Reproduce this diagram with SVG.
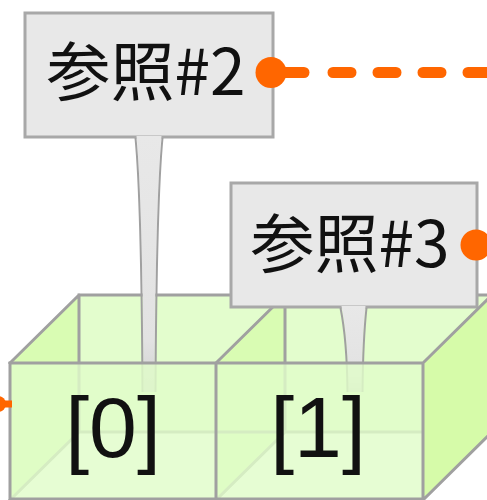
<svg xmlns="http://www.w3.org/2000/svg" width="487" height="500" viewBox="0 0 487 500">
<defs>
<style>
.edge{stroke:#a0a0a0;stroke-width:3;fill:none;stroke-linecap:square}
.box{fill:#e8e8e8;stroke:#a8a8a8;stroke-width:3}
.lbl{font-family:"Noto Sans CJK JP","Noto Sans",sans-serif;font-size:64px;fill:#111;text-anchor:middle}
.idx{font-family:"Liberation Sans",Arial,sans-serif;font-size:86px;fill:#111;text-anchor:middle}
.back{fill:#e3fdcd}
.side{fill:#d9fcb3}
.front{fill:#e1fcc9;fill-opacity:0.82}
.right{fill:#d6fba9}
.stemside{stroke:#a0a0a0;stroke-width:2;fill:none}
.conn{stroke:#ff6600;stroke-width:11;fill:none;stroke-linecap:round}
.dot{fill:#ff6600}
</style>
<linearGradient id="stemg" x1="0" y1="0" x2="0" y2="1">
<stop offset="0" stop-color="#e8e8e8"/>
<stop offset="0.8" stop-color="#e2e2e2"/>
<stop offset="1" stop-color="#d0d0d0"/>
</linearGradient>
</defs>

<g id="array-back">
<g id="cell0-back">
<rect class="back" x="79" y="295" width="206" height="137"/>
<polygon class="side" points="10,363 79,295 79,432 10,500"/>
</g>
<g id="cell1-back">
<rect class="back" x="285" y="295" width="207" height="137"/>
<polygon class="side" points="216,363 285,295 285,432 216,500"/>
</g>
<path class="edge" d="M79,295 H492 M79,432 H492 M79,295 V432 M285,295 V432 M10,363 L79,295 M216,363 L285,295 M10,500 L79,432 M216,500 L285,432"/>
</g>

<g id="callout-ref2">
<rect class="box" x="25" y="13" width="248" height="124"/>
<path d="M136.5,136 L161.5,136 Q155.5,200 154.5,392 L143.5,392 Q142.5,200 136.5,136 Z" fill="url(#stemg)"/>
<path class="stemside" d="M135.5,138 Q141.5,200 142.5,392 M155.5,392 Q156.5,200 162.5,138"/>
<text class="lbl" x="146" y="95">参照#2</text>
</g>

<g id="callout-ref3">
<rect class="box" x="231" y="183" width="246" height="124"/>
<path d="M341.5,306 L365.5,306 Q362,340 361.5,392 L348.5,392 Q348,340 341.5,306 Z" fill="url(#stemg)"/>
<path class="stemside" d="M340.5,308 Q347,340 347.5,392 M362.5,392 Q363,340 366.5,308"/>
<text class="lbl" x="350" y="267">参照#3</text>
</g>

<g id="cell0">
<rect class="front" x="10" y="363" width="206" height="137"/>
<text class="idx" x="113" y="457">[0]</text>
</g>
<g id="cell1">
<rect class="front" x="216" y="363" width="207" height="137"/>
<polygon class="right" points="423,363 492,295 492,432 423,500"/>
<text class="idx" x="318" y="457">[1]</text>
</g>
<path class="edge" d="M10,363 H423 M10,499 H423 M10,363 V500 M216,363 V500 M423,363 V500 M423,363 L492,295 M423,500 L492,432"/>

<g id="connectors">
<line class="conn" x1="271" y1="72.5" x2="304" y2="72.5"/>
<line class="conn" x1="333" y1="72.5" x2="500" y2="72.5" stroke-dasharray="18 27"/>
<circle class="dot" cx="271" cy="72.5" r="15.5"/>
<circle class="dot" cx="476" cy="245" r="15.5"/>
<line x1="-2" y1="404" x2="12" y2="404" stroke="#ff6600" stroke-width="7"/>
<circle class="dot" cx="-2" cy="404" r="8"/>
</g>
</svg>
